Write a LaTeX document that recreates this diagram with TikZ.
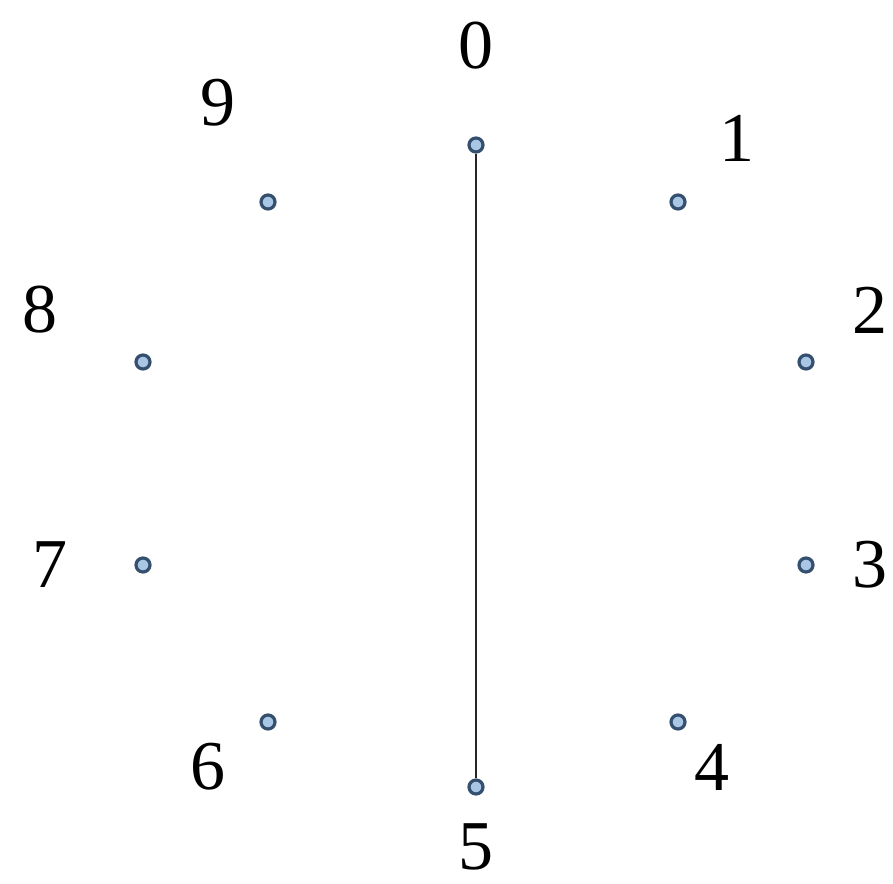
\documentclass[tikz,border=0pt]{standalone}
\usepackage{fontspec}
\setmainfont{Liberation Serif}
\definecolor{dotfill}{HTML}{A9C6E4}
\definecolor{dotedge}{HTML}{34506E}
\begin{document}
\begin{tikzpicture}[x=1pt,y=-1pt,
  pt/.style={circle,draw=dotedge,fill=dotfill,line width=3.2pt,minimum size=14pt,inner sep=0pt},
  lbl/.style={font=\fontsize{70}{70}\selectfont,inner sep=0pt}]
\useasboundingbox (0,0) rectangle (893,883);
\node[pt] (p0) at (476,145) {};
\node[pt] (p1) at (678,202) {};
\node[pt] (p2) at (806,362) {};
\node[pt] (p3) at (806,565) {};
\node[pt] (p4) at (678,722) {};
\node[pt] (p5) at (476,787) {};
\node[pt] (p6) at (268,722) {};
\node[pt] (p7) at (143,565) {};
\node[pt] (p8) at (143,362) {};
\node[pt] (p9) at (268,202) {};
\node[lbl] (l0) at (476,46) {0};
\node[lbl] (l1) at (737,138) {1};
\node[lbl] (l2) at (870,310) {2};
\node[lbl] (l3) at (870,565) {3};
\node[lbl] (l4) at (712,767) {4};
\node[lbl] (l5) at (476,847) {5};
\node[lbl] (l6) at (208,767) {6};
\node[lbl] (l7) at (50,565) {7};
\node[lbl] (l8) at (40,310) {8};
\node[lbl] (l9) at (218,103) {9};
\draw[line width=1.2pt,black!85] (p0) -- (p5);
\end{tikzpicture}
\end{document}
